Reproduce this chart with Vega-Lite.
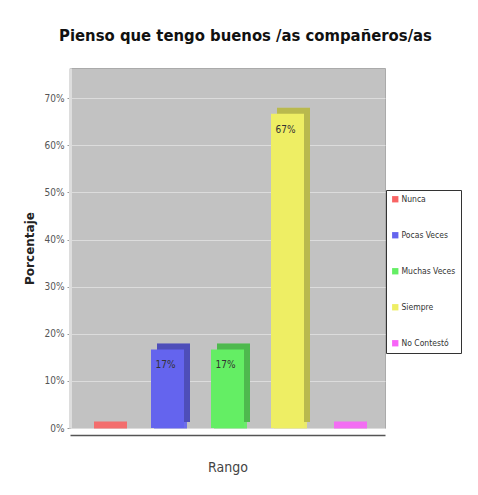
{
  "$schema": "https://vega.github.io/schema/vega-lite/v6.json",
  "autosize": {"type": "none"},
  "width": 315,
  "height": 360,
  "padding": {"left": 70, "top": 68, "right": 93, "bottom": 67},
  "background": "white",
  "title": {
    "text": "Pienso que tengo buenos /as compañeros/as",
    "anchor": "middle",
    "frame": "group",
    "dx": 18,
    "offset": 24,
    "font": "DejaVu Sans Condensed, Liberation Sans Narrow, DejaVu Sans",
    "fontSize": 16.5,
    "fontWeight": "bold",
    "color": "#111111"
  },
  "data": {
    "values": [
      {"Rango": "Nunca", "Porcentaje": 0, "Etiqueta": ""},
      {"Rango": "Pocas Veces", "Porcentaje": 0.1667, "Etiqueta": "17%"},
      {"Rango": "Muchas Veces", "Porcentaje": 0.1667, "Etiqueta": "17%"},
      {"Rango": "Siempre", "Porcentaje": 0.6667, "Etiqueta": "67%"},
      {"Rango": "No Contestó", "Porcentaje": 0, "Etiqueta": ""}
    ]
  },
  "encoding": {
    "x": {
      "field": "Rango",
      "type": "nominal",
      "sort": null,
      "scale": {"paddingInner": 0.45, "paddingOuter": 0.35},
      "axis": {
        "title": "Rango",
        "labels": false,
        "ticks": false,
        "domain": true,
        "domainColor": "#555555",
        "domainWidth": 1.5,
        "offset": 7,
        "titleFont": "DejaVu Sans Condensed, Liberation Sans Narrow, DejaVu Sans",
        "titleFontSize": 14,
        "titleFontWeight": "normal",
        "titleColor": "#444444",
        "titlePadding": 25
      }
    },
    "color": {
      "field": "Rango",
      "type": "nominal",
      "sort": null,
      "scale": {
        "domain": ["Nunca", "Pocas Veces", "Muchas Veces", "Siempre", "No Contestó"],
        "range": ["#f86464", "#6464ee", "#64ee64", "#eeee64", "#f864f8"]
      },
      "legend": {
        "title": null,
        "orient": "none",
        "legendX": 316,
        "legendY": 122,
        "symbolType": "square",
        "symbolSize": 40,
        "symbolStrokeWidth": 0,
        "symbolOpacity": 1,
        "labelFont": "DejaVu Sans Condensed, Liberation Sans Narrow, DejaVu Sans",
        "labelFontSize": 8.5,
        "labelColor": "#333333",
        "rowPadding": 27,
        "padding": 5,
        "strokeColor": "#333333",
        "fillColor": "white",
        "labelOffset": 2
      }
    }
  },
  "layer": [
    {
      "mark": {"type": "tick", "thickness": 7, "xOffset": 3, "yOffset": -3, "opacity": 0.9},
      "encoding": {
        "y": {"datum": 0, "type": "quantitative"}
      }
    },
    {
      "mark": {"type": "bar", "xOffset": 6, "yOffset": -6},
      "encoding": {
        "y": {"field": "Porcentaje", "type": "quantitative"}
      }
    },
    {
      "mark": {"type": "bar", "xOffset": 6, "yOffset": -6, "color": "#000000", "opacity": 0.22},
      "encoding": {
        "y": {"field": "Porcentaje", "type": "quantitative"},
        "color": {"value": "#000000"}
      }
    },
    {
      "mark": {"type": "bar"},
      "encoding": {
        "y": {
          "field": "Porcentaje",
          "type": "quantitative",
          "scale": {"domain": [0, 0.764], "nice": false},
          "axis": {
            "title": "Porcentaje",
            "format": ".0%",
            "values": [0, 0.1, 0.2, 0.3, 0.4, 0.5, 0.6, 0.7],
            "labelFont": "DejaVu Sans Condensed, Liberation Sans Narrow, DejaVu Sans",
            "labelFontSize": 10,
            "labelColor": "#555555",
            "labelPadding": 3,
            "tickColor": "#999999",
            "tickSize": 3,
            "domain": true,
            "domainColor": "#dddddd",
            "domainWidth": 3,
            "grid": true,
            "gridColor": "#dcdcdc",
            "gridWidth": 1,
            "titleFont": "DejaVu Sans",
            "titleFontSize": 12,
            "titleFontWeight": "bold",
            "titleColor": "#222222",
            "titlePadding": 8
          }
        }
      }
    },
    {
      "mark": {"type": "text", "baseline": "middle", "dy": 16, "dx": -2, "font": "DejaVu Sans Condensed, Liberation Sans Narrow, DejaVu Sans", "fontSize": 10},
      "encoding": {
        "y": {"field": "Porcentaje", "type": "quantitative"},
        "text": {"field": "Etiqueta"},
        "color": {"value": "#333333"}
      }
    }
  ],
  "config": {
    "view": {"fill": "#c2c2c2", "stroke": "#aaaaaa"}
  }
}
